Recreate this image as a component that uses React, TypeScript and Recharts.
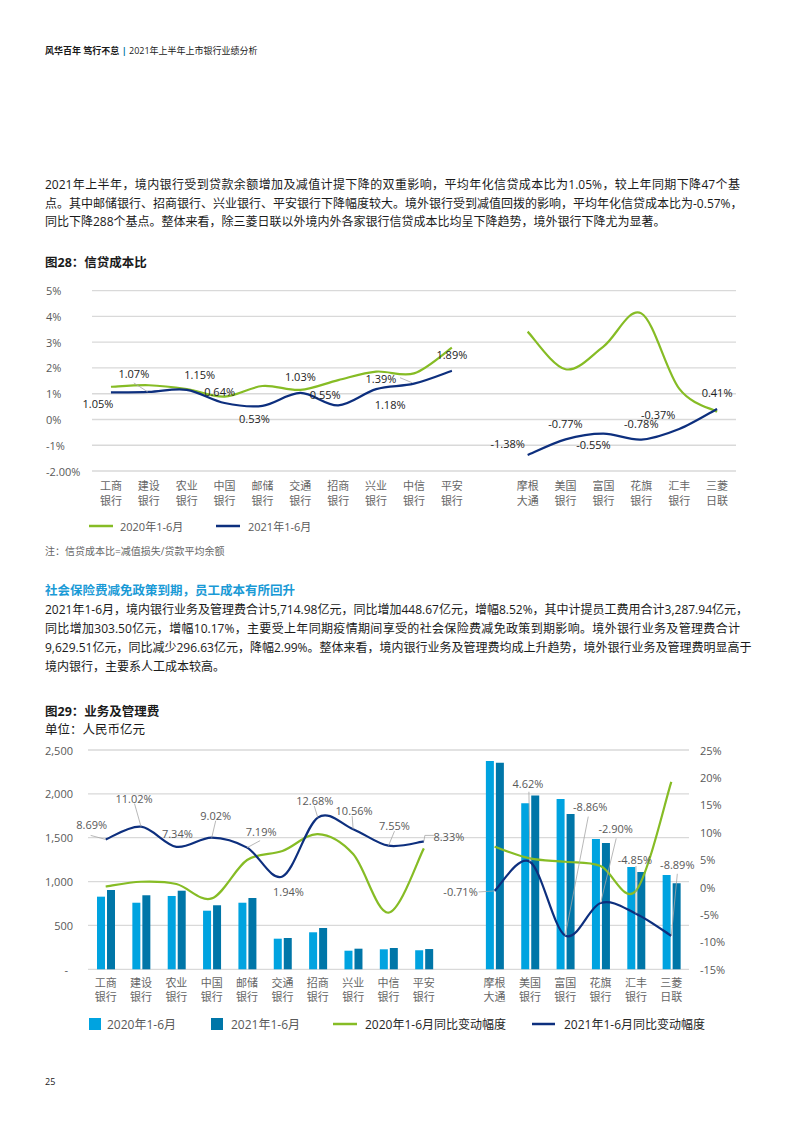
import React from 'react';
import { LineChart, Line, XAxis, YAxis, CartesianGrid, ComposedChart, Bar } from 'recharts';

// ---------- data ----------
const banks = ['工商银行', '建设银行', '农业银行', '中国银行', '邮储银行', '交通银行', '招商银行', '兴业银行', '中信银行', '平安银行', '', '摩根大通', '美国银行', '富国银行', '花旗银行', '汇丰银行', '三菱日联'];

const credit2020 = [1.27, 1.33, 1.18, 0.89, 1.3, 1.15, 1.53, 1.86, 1.79, 2.79, null, 3.41, 1.95, 2.83, 4.12, 1.2, 0.3];
const credit2021 = [1.05, 1.07, 1.15, 0.64, 0.53, 1.03, 0.55, 1.18, 1.39, 1.89, null, -1.38, -0.77, -0.55, -0.78, -0.37, 0.41];
const creditTicks = [-2, -1, 0, 1, 2, 3, 4, 5];

const cost2020 = [828, 759, 836, 668, 759, 349, 422, 212, 228, 217, null, 2375, 1893, 1942, 1486, 1166, 1075];
const cost2021 = [904, 844, 896, 730, 813, 357, 471, 235, 243, 231, null, 2356, 1980, 1771, 1440, 1110, 981];
const growth2020 = [0.1, 0.97, 0.55, -2.07, 4.93, 6.57, 9.67, 6.02, -4.68, 7.06, null, 7.35, 5.23, 4.62, 3.83, -0.67, 19.2];
const growth2021 = [8.69, 11.02, 7.34, 9.02, 7.19, 1.94, 12.68, 10.56, 7.55, 8.33, null, -0.71, 4.62, -8.86, -2.9, -4.85, -8.89];
const costTicks = [0, 500, 1000, 1500, 2000, 2500];
const growthTicks = [-15, -10, -5, 0, 5, 10, 15, 20, 25];

const data28 = banks.map((name, i) => ({ name, v2020: credit2020[i], v2021: credit2021[i] }));
const data29 = banks.map((name, i) => ({ name, c2020: cost2020[i], c2021: cost2021[i], g2020: growth2020[i], g2021: growth2021[i] }));

// ---------- styles / label placement ----------
const GREEN = '#86BC25';
const NAVY = '#0D2F7E';
const BLUE_LIGHT = '#00A3E0';
const BLUE_DARK = '#0076A8';
const FONT = '"Open Sans", "Noto Sans CJK SC", sans-serif';

type Off = { dx: number; dy: number; leader?: number[][] } | null;
const offsets28: Off[] = [
  { dx: -13, dy: 11 },
  { dx: -15, dy: -18, leader: [[-15, -9], [-1, 0]] },
  { dx: 13, dy: -15 },
  { dx: -5, dy: -12 },
  { dx: -8, dy: 13 },
  { dx: 0, dy: -16 },
  { dx: -13, dy: -11 },
  { dx: 14, dy: 15 },
  { dx: -33, dy: -5, leader: [[-14, -6], [-2, -1]] },
  { dx: 0, dy: -16 },
  null,
  { dx: -20, dy: -12 },
  { dx: 0, dy: -16 },
  { dx: -10, dy: 11 },
  { dx: 0, dy: -16 },
  { dx: -21, dy: -15 },
  { dx: 0, dy: -16 },
];
const offsets29: Off[] = [
  { dx: -14, dy: -15, leader: [[-15, -4], [0, 0]] },
  { dx: -7, dy: -28, leader: [[-6.5, -23], [0, 0]] },
  { dx: 1, dy: -13 },
  { dx: 4, dy: -22, leader: [[4, -17], [0, 0]] },
  { dx: 14, dy: -16, leader: [[13, -7], [0, 0]] },
  { dx: 6, dy: 15 },
  { dx: -3, dy: -17, leader: [[-3.5, -11.5], [0, 0]] },
  { dx: 1, dy: -19, leader: [[-1, -13], [0, 0]] },
  { dx: 6, dy: -20, leader: [[6, -14.5], [0, 0]] },
  { dx: 25, dy: -5, leader: [[10, -6], [1, -6], [0, 0]] },
  null,
  { dx: -34, dy: 1, leader: [[-16, 1], [0, 0]] },
  { dx: -2, dy: -78, leader: [[-1, -70], [0, 0]] },
  { dx: 25, dy: -129, leader: [[23, -119], [0, 0]] },
  { dx: 15, dy: -74, leader: [[15.6, -64.6], [0, 0]] },
  { dx: -1, dy: -54, leader: [[0, -47.6], [0, 0]] },
  { dx: 6, dy: -71, leader: [[6, -62], [0, 0]] },
];

// Excel-like smooth curve (Catmull-Rom / Bezier with 1/6 tangents)
function excelCurve(context: any) {
  let pts: number[][] = [];
  return {
    areaStart() {},
    areaEnd() {},
    lineStart() { pts = []; },
    lineEnd() {
      if (!pts.length) return;
      context.moveTo(pts[0][0], pts[0][1]);
      for (let i = 0; i < pts.length - 1; i++) {
        const p0 = pts[i - 1] || pts[i];
        const p1 = pts[i];
        const p2 = pts[i + 1];
        const p3 = pts[i + 2] || pts[i + 1];
        context.bezierCurveTo(
          p1[0] + (p2[0] - p0[0]) / 6, p1[1] + (p2[1] - p0[1]) / 6,
          p2[0] - (p3[0] - p1[0]) / 6, p2[1] - (p3[1] - p1[1]) / 6,
          p2[0], p2[1]
        );
      }
    },
    point(x: number, y: number) { pts.push([+x, +y]); },
  };
}

const makeLabelDot = (values: (number | null)[], offs: Off[], color: string) => (props: any) => {
  const { cx, cy, index } = props;
  const v = values[index];
  const o = offs[index];
  if (v == null || o == null || cx == null || cy == null || isNaN(cx) || isNaN(cy)) return <g key={`d${index}`} />;
  return (
    <g key={`d${index}`}>
      {o.leader && (
        <polyline
          points={o.leader.map(p => `${cx + p[0]},${cy + p[1]}`).join(' ')}
          fill="none" stroke="#a6a6a6" strokeWidth={0.8}
        />
      )}
      <text x={cx + o.dx} y={cy + o.dy} textAnchor="middle" dominantBaseline="central"
        fontSize={11} fill={color} fontFamily={FONT}>
        {`${v.toFixed(2)}%`}
      </text>
    </g>
  );
};

const makeXTick = (y1: number, y2: number) => (props: any) => {
  const { x, payload } = props;
  const s: string = payload.value || '';
  if (!s) return <g />;
  return (
    <g>
      <text x={x} y={y1} textAnchor="middle" dominantBaseline="central" fontSize={11} fill="#666" fontFamily={FONT}>{s.slice(0, 2)}</text>
      <text x={x} y={y2} textAnchor="middle" dominantBaseline="central" fontSize={11} fill="#666" fontFamily={FONT}>{s.slice(2)}</text>
    </g>
  );
};

const Tick28Y = (props: any) => {
  const { y, payload } = props;
  const v = payload.value;
  const label = v === -2 ? '-2.00%' : `${v}%`;
  return <text x={46} y={y} dominantBaseline="central" fontSize={11} fill="#595959" fontFamily={FONT}>{label}</text>;
};

const Tick29Left = (props: any) => {
  const { y, payload } = props;
  const v = payload.value;
  if (v === 0) return <text x={68} y={y} textAnchor="end" dominantBaseline="central" fontSize={11} fill="#595959" fontFamily={FONT}>-</text>;
  return <text x={73} y={y} textAnchor="end" dominantBaseline="central" fontSize={11} fill="#595959" fontFamily={FONT}>{v.toLocaleString('en-US')}</text>;
};

const Tick29Right = (props: any) => {
  const { y, payload } = props;
  return <text x={700} y={y} dominantBaseline="central" fontSize={11} fill="#595959" fontFamily={FONT}>{`${payload.value}%`}</text>;
};

const abs = (top: number, left: number, extra: React.CSSProperties = {}): React.CSSProperties => ({
  position: 'absolute', top, left, whiteSpace: 'nowrap', ...extra,
});

const bodyText: React.CSSProperties = { fontSize: 12, color: '#1a1a1a', lineHeight: '18.5px' };
const justLine = (top: number, text: string, last = false) => (
  <div style={abs(top, 45, { ...bodyText, width: 695, textAlign: 'justify', textAlignLast: last ? 'left' : 'justify' } as any)}>{text}</div>
);

export default function App() {
  return (
    <div style={{ position: 'relative', width: 793, height: 1122, fontFamily: FONT, background: '#fff', overflow: 'hidden' }}>
      <style>{'body{margin:0}'}</style>

      {/* header */}
      <div style={abs(44, 45, { fontSize: 9, color: '#1a1a1a', lineHeight: '13px' })}>
        <b>风华百年 笃行不怠</b> <span style={{ color: '#0076A8', fontWeight: 700 }}>|</span> 2021年上半年上市银行业绩分析
      </div>

      {/* paragraph 1 */}
      {justLine(176, '2021年上半年，境内银行受到贷款余额增加及减值计提下降的双重影响，平均年化信贷成本比为1.05%，较上年同期下降47个基')}
      {justLine(194.5, '点。其中邮储银行、招商银行、兴业银行、平安银行下降幅度较大。境外银行受到减值回拨的影响，平均年化信贷成本比为-0.57%，')}
      {justLine(213, '同比下降288个基点。整体来看，除三菱日联以外境内外各家银行信贷成本比均呈下降趋势，境外银行下降尤为显著。', true)}

      <div style={abs(254, 45, { fontSize: 12.5, fontWeight: 700, color: '#1a1a1a', lineHeight: '18px' })}>图28：信贷成本比</div>

      {/* chart 28 */}
      <div style={abs(280, 0)}>
        <LineChart width={793} height={235} data={data28} margin={{ top: 10.7, right: 57, bottom: 0, left: 0 }}>
          <CartesianGrid vertical={false} stroke="#d9d9d9" strokeWidth={1.3} />
          <XAxis dataKey="name" scale="band" interval={0} height={44} axisLine={false} tickLine={false} tick={makeXTick(205, 220)} />
          <YAxis width={92} domain={[-2, 5]} ticks={creditTicks} axisLine={false} tickLine={false} tick={<Tick28Y />} />
          <Line dataKey="v2020" type={excelCurve as any} stroke={GREEN} strokeWidth={2.2} dot={false} activeDot={false} isAnimationActive={false} />
          <Line dataKey="v2021" type={excelCurve as any} stroke={NAVY} strokeWidth={2.2} dot={makeLabelDot(credit2021, offsets28, '#222')} activeDot={false} isAnimationActive={false} />
        </LineChart>
      </div>

      {/* legend 28 */}
      <svg style={abs(519, 0)} width={400} height={16}>
        <line x1={89} x2={113} y1={7} y2={7} stroke={GREEN} strokeWidth={2.5} />
        <text x={120} y={7} dominantBaseline="central" fontSize={11} fill="#595959" fontFamily={FONT}>2020年1-6月</text>
        <line x1={216} x2={240} y1={7} y2={7} stroke={NAVY} strokeWidth={2.5} />
        <text x={248} y={7} dominantBaseline="central" fontSize={11} fill="#595959" fontFamily={FONT}>2021年1-6月</text>
      </svg>

      <div style={abs(544, 45, { fontSize: 10, color: '#666', lineHeight: '14px' })}>注：信贷成本比=减值损失/贷款平均余额</div>

      <div style={abs(582, 45, { fontSize: 12.5, fontWeight: 700, color: '#1A9AD6', lineHeight: '18px' })}>社会保险费减免政策到期，员工成本有所回升</div>

      {/* paragraph 2 */}
      {justLine(601, '2021年1-6月，境内银行业务及管理费合计5,714.98亿元，同比增加448.67亿元，增幅8.52%，其中计提员工费用合计3,287.94亿元，')}
      {justLine(620, '同比增加303.50亿元，增幅10.17%，主要受上年同期疫情期间享受的社会保险费减免政策到期影响。境外银行业务及管理费合计')}
      {justLine(639, '9,629.51亿元，同比减少296.63亿元，降幅2.99%。整体来看，境内银行业务及管理费均成上升趋势，境外银行业务及管理费明显高于')}
      {justLine(658, '境内银行，主要系人工成本较高。', true)}

      <div style={abs(703, 45, { fontSize: 12.5, fontWeight: 700, color: '#1a1a1a', lineHeight: '18px' })}>图29：业务及管理费</div>
      <div style={abs(720.5, 45, { fontSize: 12.5, color: '#1a1a1a', lineHeight: '18px' })}>单位：人民币亿元</div>

      {/* chart 29 */}
      <div style={abs(740, 0)}>
        <ComposedChart width={793} height={270} data={data29} margin={{ top: 10, right: 0, bottom: 0, left: 0 }} barSize={8} barGap={2}>
          <CartesianGrid vertical={false} stroke="#d9d9d9" strokeWidth={1.3} yAxisId="left" />
          <XAxis dataKey="name" interval={0} height={40.7} axisLine={false} tickLine={false} tick={makeXTick(242.7, 256.7)} />
          <YAxis yAxisId="left" orientation="left" width={88} domain={[0, 2500]} ticks={costTicks} axisLine={false} tickLine={false} tick={<Tick29Left />} />
          <YAxis yAxisId="right" orientation="right" width={104} domain={[-15, 25]} ticks={growthTicks} axisLine={false} tickLine={false} tick={<Tick29Right />} />
          <Bar yAxisId="left" dataKey="c2020" fill={BLUE_LIGHT} isAnimationActive={false} />
          <Bar yAxisId="left" dataKey="c2021" fill={BLUE_DARK} isAnimationActive={false} />
          <Line yAxisId="right" dataKey="g2020" type={excelCurve as any} stroke={GREEN} strokeWidth={2.2} dot={false} activeDot={false} isAnimationActive={false} />
          <Line yAxisId="right" dataKey="g2021" type={excelCurve as any} stroke={NAVY} strokeWidth={2.2} dot={makeLabelDot(growth2021, offsets29, '#595959')} activeDot={false} isAnimationActive={false} />
        </ComposedChart>
      </div>

      {/* legend 29 */}
      <svg style={abs(1015, 0)} width={793} height={20}>
        <rect x={89} y={3} width={12} height={12} fill={BLUE_LIGHT} />
        <text x={107} y={9} dominantBaseline="central" fontSize={12} fill="#595959" fontFamily={FONT}>2020年1-6月</text>
        <rect x={211} y={3} width={12} height={12} fill={BLUE_DARK} />
        <text x={231} y={9} dominantBaseline="central" fontSize={12} fill="#595959" fontFamily={FONT}>2021年1-6月</text>
        <line x1={333} x2={357} y1={9} y2={9} stroke={GREEN} strokeWidth={2.5} />
        <text x={365} y={9} dominantBaseline="central" fontSize={12} fill="#262626" fontFamily={FONT}>2020年1-6月同比变动幅度</text>
        <line x1={532} x2={555} y1={9} y2={9} stroke={NAVY} strokeWidth={2.5} />
        <text x={564} y={9} dominantBaseline="central" fontSize={12} fill="#262626" fontFamily={FONT}>2021年1-6月同比变动幅度</text>
      </svg>

      <div style={abs(1076, 45, { fontSize: 9, color: '#1a1a1a', lineHeight: '12px' })}>25</div>
    </div>
  );
}
